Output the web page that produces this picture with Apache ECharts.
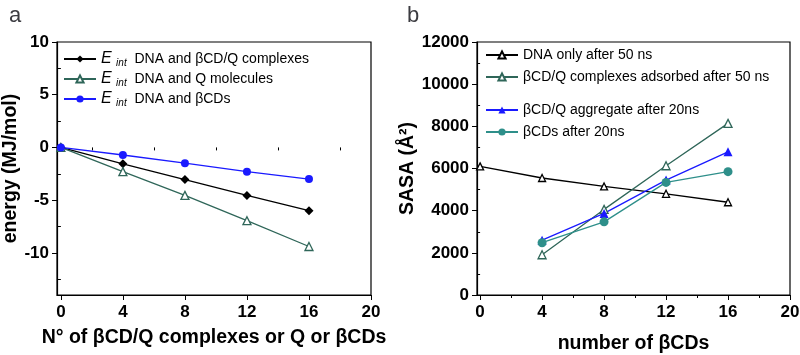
<!DOCTYPE html>
<html>
<head>
<meta charset="utf-8">
<script src="https://cdn.jsdelivr.net/npm/echarts@6/dist/echarts.min.js"></script>
<style>
  html, body { margin: 0; padding: 0; background: #fff; }
  #chart { width: 800px; height: 355px; }
</style>
</head>
<body>
<div id="chart"></div>
<script>
// panel a: interaction energies
var xA = [0, 4, 8, 12, 16];
var eComplex = [0, -1.55, -3.05, -4.55, -6.0];
var eQ = [0, -2.3, -4.55, -6.95, -9.4];
var eCD = [0, -0.72, -1.5, -2.3, -3.0];
var yTicksA = [-10, -5, 0, 5, 10];
var yMinorA = [-12.5, -7.5, -2.5, 2.5, 7.5];

// panel b: SASA
var xB0 = [0, 4, 8, 12, 16];
var xB = [4, 8, 12, 16];
var sasaDNA = [6100, 5550, 5150, 4800, 4400];
var sasaComplex = [1910, 4060, 6130, 8140];
var sasaAggr = [2600, 3870, 5450, 6790];
var sasaCD = [2480, 3470, 5340, 5850];
var yTicksB = [0, 2000, 4000, 6000, 8000, 10000, 12000];
var yMinorB = [1000, 3000, 5000, 7000, 9000, 11000];

var xTicks = [0, 4, 8, 12, 16, 20];
var xMinor = [2, 6, 10, 14, 18];

function pairs(xs, ys) {
    return ys.map(function (v, i) { return [xs[i], v]; });
}

var font = 'Liberation Sans, Arial, sans-serif';
var labelStyle = { fontFamily: font, fontWeight: 'bold', fontSize: 17, color: '#000',
    formatter: function (v) { return String(v); } };
var nameStyle = { fontFamily: font, fontWeight: 'bold', fontSize: 19.5, color: '#000' };

function xAxisFor(grid, min, name, gap) {
    return [{
        type: 'value', gridIndex: grid, min: min, max: 20,
        name: name, nameLocation: 'middle', nameGap: gap, nameTextStyle: nameStyle,
        axisLine: { onZero: false, lineStyle: { color: '#000', width: 1.2 } },
        axisTick: { customValues: xTicks, length: 5, lineStyle: { color: '#000' } },
        axisLabel: Object.assign({ customValues: xTicks, margin: 9 }, labelStyle),
        splitLine: { show: false }
    }, {
        type: 'value', gridIndex: grid, min: min, max: 20, position: 'bottom',
        axisLine: { show: false },
        axisTick: { customValues: xMinor, length: 3, lineStyle: { color: '#000' } },
        axisLabel: { show: false }, splitLine: { show: false }
    }];
}

function yAxisFor(grid, min, max, ticks, minor, name, gap) {
    return [{
        type: 'value', gridIndex: grid, min: min, max: max,
        name: name, nameLocation: 'middle', nameGap: gap, nameTextStyle: nameStyle,
        axisLine: { show: true, onZero: false, lineStyle: { color: '#000', width: 1.2 } },
        axisTick: { customValues: ticks, length: 5, lineStyle: { color: '#000' } },
        axisLabel: Object.assign({ customValues: ticks, margin: 8 }, labelStyle),
        splitLine: { show: false }
    }, {
        type: 'value', gridIndex: grid, min: min, max: max, position: 'left',
        axisLine: { show: false },
        axisTick: { customValues: minor, length: 3, lineStyle: { color: '#000' } },
        axisLabel: { show: false }, splitLine: { show: false }
    }];
}

function line(name, data, color, symbol, hollow, xi, yi, size) {
    return {
        name: name, type: 'line', data: data,
        xAxisIndex: xi, yAxisIndex: yi,
        symbol: symbol, symbolSize: size || 8,
        lineStyle: { color: color, width: 1.3 },
        itemStyle: hollow ? { color: '#fff', borderColor: color, borderWidth: 1.3 } : { color: color },
        emphasis: { disabled: true },
        animation: false
    };
}

var green = '#2f6659';
var blue = '#1a1aff';
var teal = '#2e8f8a';

var nA = ['Eint DNA and βCD/Q complexes', 'Eint DNA and Q molecules', 'Eint DNA and βCDs'];
var nB = ['DNA only after 50 ns', 'βCD/Q complexes adsorbed after 50 ns', 'βCD/Q aggregate after 20ns', 'βCDs after 20ns'];

var legendText = { fontFamily: font, fontSize: 14, color: '#000',
    rich: {
        e: { fontFamily: font, fontStyle: 'italic', fontSize: 16, color: '#000' },
        s: { fontFamily: font, fontStyle: 'italic', fontSize: 10, color: '#000', padding: [8, 0, 0, 0] },
        t: { fontFamily: font, fontSize: 14, color: '#000' }
    }
};

var chart = echarts.init(document.getElementById('chart'), null, { renderer: 'canvas' });
chart.setOption({
    animation: false,
    title: [
        { text: 'a', left: 4, top: 0, textStyle: { fontFamily: font, fontWeight: 'normal', fontSize: 22 } },
        { text: 'b', left: 402, top: 0, textStyle: { fontFamily: font, fontWeight: 'normal', fontSize: 22 } }
    ],
    grid: [
        { left: 57, right: 429, top: 42, height: 253, show: true, borderColor: '#000', borderWidth: 1.2,
          outerBoundsMode: 'none', containLabel: false },
        { left: 477, right: 10, top: 42, height: 253, show: true, borderColor: '#000', borderWidth: 1.2,
          outerBoundsMode: 'none', containLabel: false }
    ],
    legend: [{
        data: nA, orient: 'vertical', left: 58, top: 46,
        itemWidth: 32, itemHeight: 9, itemGap: 3,
        formatter: function (n) { return '{e|E }{s|int}{t|  ' + n.slice(5) + '}'; },
        textStyle: legendText
    }, {
        data: nB.slice(0, 2), orient: 'vertical', left: 480, top: 43,
        itemWidth: 32, itemHeight: 9, itemGap: 8,
        textStyle: { fontFamily: font, fontSize: 14, color: '#000' }
    }, {
        data: nB.slice(2), orient: 'vertical', left: 480, top: 98,
        itemWidth: 32, itemHeight: 9, itemGap: 8,
        textStyle: { fontFamily: font, fontSize: 14, color: '#000' }
    }],
    xAxis: xAxisFor(0, -0.25, 'N° of βCD/Q complexes or Q or βCDs', 33)
        .concat(xAxisFor(1, -0.2, 'number of βCDs', 39)),
    yAxis: yAxisFor(0, -14, 10, yTicksA, yMinorA, 'energy (MJ/mol)', 36)
        .concat(yAxisFor(1, 0, 12000, yTicksB, yMinorB, 'SASA (Å²)', 59)),
    series: [
        line(nA[0], pairs(xA, eComplex), '#000', 'diamond', false, 0, 0, 9),
        line(nA[1], pairs(xA, eQ), green, 'triangle', true, 0, 0, 8),
        line(nA[2], pairs(xA, eCD), blue, 'circle', false, 0, 0, 8),
        line(nB[0], pairs(xB0, sasaDNA), '#000', 'triangle', true, 2, 2, 7),
        line(nB[1], pairs(xB, sasaComplex), green, 'triangle', true, 2, 2, 8),
        line(nB[2], pairs(xB, sasaAggr), blue, 'triangle', false, 2, 2, 9),
        line(nB[3], pairs(xB, sasaCD), teal, 'circle', false, 2, 2, 9)
    ]
});
</script>
</body>
</html>
